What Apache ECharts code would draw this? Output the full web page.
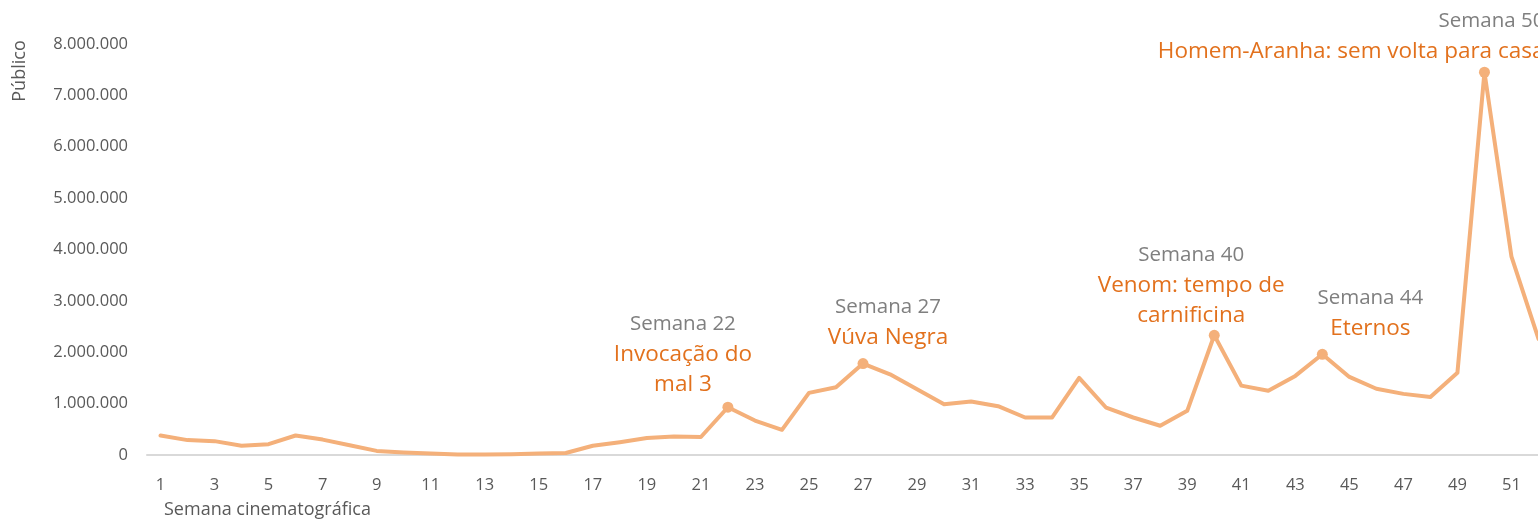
<!DOCTYPE html>
<html>
<head>
<meta charset="utf-8">
<script src="https://cdn.jsdelivr.net/npm/echarts@6/dist/echarts.min.js"></script>
<style>
    html, body { margin: 0; padding: 0; background: #fff; }
    #chart { width: 1538px; height: 521px; }
</style>
</head>
<body>
<div id="chart"></div>
<script>
// semanas cinematográficas
const semanas = ['1', '2', '3', '4', '5', '6', '7', '8', '9', '10', '11', '12', '13',
    '14', '15', '16', '17', '18', '19', '20', '21', '22', '23', '24', '25', '26',
    '27', '28', '29', '30', '31', '32', '33', '34', '35', '36', '37', '38', '39',
    '40', '41', '42', '43', '44', '45', '46', '47', '48', '49', '50', '51', '52'];

// público por semana
const publico = [380000, 290000, 270000, 180000, 210000, 380000, 300000, 190000, 80000,
    50000, 30000, 10000, 10000, 15000, 30000, 40000, 180000, 250000, 330000, 360000,
    350000, 930000, 670000, 490000, 1210000, 1320000, 1780000, 1570000, 1280000,
    990000, 1040000, 950000, 730000, 730000, 1500000, 920000, 730000, 570000,
    860000, 2330000, 1350000, 1250000, 1540000, 1960000, 1520000, 1290000,
    1190000, 1130000, 1600000, 7450000, 3860000, 2260000];

// destaques
const semanasDestaque = ['22', '27', '40', '44', '50'];
const filmes = ['Invocação do\nmal 3', 'Vúva Negra', 'Venom: tempo de\ncarnificina', 'Eternos',
    'Homem-Aranha: sem volta para casa'];

// ticks do eixo y
const yTicks = [0, 1000000, 2000000, 3000000, 4000000, 5000000, 6000000, 7000000, 8000000];

// deslocamento dos rótulos (px)
const labelPos = {
    '22': { offset: [-45, -2] },
    '27': { offset: [25, -5] },
    '40': { offset: [-23, 1] },
    '44': { offset: [48, -5] },
    '50': { offset: [60, 0], align: 'right' }
};

const FONT = 'Open Sans';
const LINE = '#F4B07A';
const ORANGE = '#E2711D';

const fmt = v => String(v).replace(/\B(?=(\d{3})+(?!\d))/g, '.');

const seriesData = publico.map((v, i) => {
    const k = semanasDestaque.indexOf(semanas[i]);
    if (k < 0) return v;
    const pos = labelPos[semanas[i]];
    const lines = filmes[k].split('\n').map(s => '{n|' + s + '}').join('\n');
    return {
        value: v,
        symbol: 'circle',
        symbolSize: 11,
        itemStyle: { color: LINE },
        label: {
            show: true,
            position: 'top',
            distance: 0,
            offset: pos.offset,
            align: pos.align || 'center',
            formatter: '{t|Semana ' + semanas[i] + '}\n' + lines,
            rich: {
                t: { fontFamily: FONT, fontSize: 20.5, color: '#7F7F7F', lineHeight: 31, align: pos.align || 'center' },
                n: { fontFamily: FONT, fontSize: 22.5, color: ORANGE, lineHeight: 30, align: pos.align || 'center' }
            }
        }
    };
});

const option = {
    animation: false,
    textStyle: { fontFamily: FONT },
    // 52 semanas, a última fica cortada pela borda direita
    grid: { left: 147, width: 1405, top: 44, bottom: 66, outerBoundsMode: 'none', containLabel: false },
    xAxis: {
        type: 'category',
        data: semanas,
        boundaryGap: true,
        axisLine: { lineStyle: { color: '#D9D9D9', width: 2 } },
        axisTick: { show: false },
        axisLabel: { interval: 1, margin: 22, fontSize: 16.5, color: '#595959', fontFamily: FONT }
    },
    yAxis: {
        type: 'value',
        min: yTicks[0],
        max: yTicks[yTicks.length - 1],
        interval: yTicks[1] - yTicks[0],
        axisLine: { show: false },
        axisTick: { show: false },
        splitLine: { show: false },
        axisLabel: { margin: 19, fontSize: 16.5, color: '#595959', fontFamily: FONT, formatter: fmt }
    },
    graphic: [
        {
            type: 'text', x: 19.5, y: 71, rotation: Math.PI / 2,
            style: { text: 'Público', fill: '#595959', font: '18px "Open Sans"', align: 'center', verticalAlign: 'middle' }
        },
        {
            type: 'text', x: 164, y: 510,
            style: { text: 'Semana cinematográfica', fill: '#595959', font: '18px "Open Sans"', align: 'left', verticalAlign: 'middle' }
        }
    ],
    series: [{
        type: 'line',
        data: seriesData,
        symbol: 'none',
        showSymbol: true,
        lineStyle: { color: LINE, width: 4, join: 'round', cap: 'round' },
        itemStyle: { color: LINE },
        emphasis: { disabled: true }
    }]
};

const chart = echarts.init(document.getElementById('chart'));
chart.setOption(option);
</script>
</body>
</html>
